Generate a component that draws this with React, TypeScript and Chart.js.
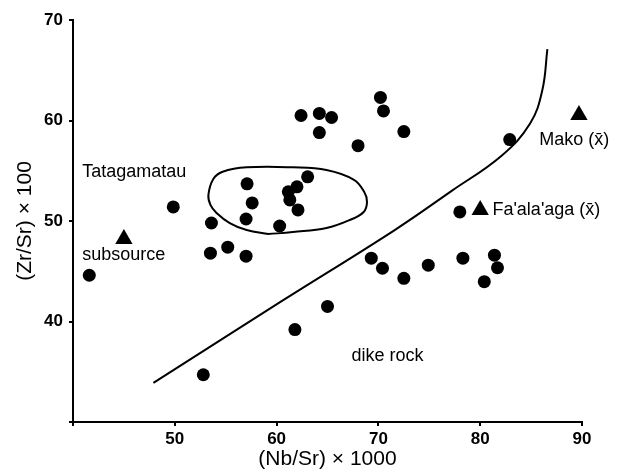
import React, { useEffect, useRef } from "react";
import { Chart, registerables } from "chart.js";

Chart.register(...registerables);

// Dike rock / Tatagamatau samples (Nb/Sr ×1000, Zr/Sr ×100)
const sampleNb = [41.6, 49.85, 52.8, 53.5, 53.6, 55.2, 57.0, 57.0, 57.1, 57.6, 60.3, 61.15, 61.3, 62.0, 62.1, 63.05, 62.4, 64.2, 65.4, 64.2, 68.0, 70.2, 70.5, 72.5, 61.8, 65.0, 69.3, 70.4, 72.5, 74.9, 78.3, 81.4, 81.7, 80.4, 78.0, 82.9];
const sampleZr = [44.6, 51.4, 34.7, 46.8, 49.8, 47.4, 46.5, 50.2, 53.7, 51.8, 49.5, 52.9, 52.1, 53.4, 51.1, 54.4, 60.5, 60.7, 60.3, 58.8, 57.5, 62.3, 60.95, 58.9, 39.2, 41.5, 46.3, 45.3, 44.3, 45.6, 46.3, 46.6, 45.35, 43.96, 50.9, 58.1];

// Source means (triangles): subsource, Fa'ala'aga, Mako
const sourceNb = [45.0, 80.0, 89.7];
const sourceZr = [48.2, 51.1, 60.55];

// Dividing curve
const curveNb = [47.9, 60.3, 71.6, 77.2, 82.1, 84.9, 86.1, 86.6];
const curveZr = [33.9, 41.9, 49.1, 53.0, 56.5, 59.7, 63.0, 67.1];

// Tatagamatau field outline
const fieldNb = [59.2, 61.6, 64.9, 67.2, 68.55, 68.88, 68.6, 67.6, 64.9, 61.6, 57.06, 54.7, 53.8, 53.3, 53.5, 54.1, 55.4, 57.06, 59.2];
const fieldZr = [48.7, 48.9, 49.3, 50.1, 50.9, 51.9, 52.9, 54.1, 55.07, 55.34, 55.34, 54.9, 54.2, 52.6, 51.6, 50.8, 49.8, 49.1, 48.7];

const xTicks = [50, 60, 70, 80, 90];
const yTicks = [40, 50, 60, 70];

const labelTexts = ["Tatagamatau", "subsource", "Mako (x\u0304)", "Fa'ala'aga (x\u0304)", "dike rock"];
const labelNb = [40.9, 40.9, 85.8, 81.2, 70.9];
const labelZr = [54.9, 46.6, 58.06, 51.1, 36.6];
const labelAlign = ["left", "left", "left", "left", "center"];

const FONT = "'Liberation Sans', Arial, Helvetica, sans-serif";

const zip = (xs: number[], ys: number[]) => xs.map((x, i) => ({ x, y: ys[i] }));

const textPlugin = {
  id: "textLabels",
  afterDatasetsDraw(chart: any) {
    const { ctx, scales } = chart;
    ctx.save();
    ctx.fillStyle = "#000";
    ctx.font = `18px ${FONT}`;
    ctx.textBaseline = "middle";
    labelTexts.forEach((t, i) => {
      ctx.textAlign = labelAlign[i];
      ctx.fillText(t, scales.x.getPixelForValue(labelNb[i]), scales.y.getPixelForValue(labelZr[i]));
    });
    ctx.restore();
  },
};

export default function App() {
  const ref = useRef<HTMLCanvasElement>(null);
  useEffect(() => {
    document.body.style.margin = "0";
    const chart = new Chart(ref.current!, {
      type: "scatter",
      data: {
        datasets: [
          {
            data: zip(curveNb, curveZr),
            showLine: true,
            borderColor: "#000",
            borderWidth: 2,
            pointRadius: 0,
            tension: 0.4,
          },
          {
            data: zip(fieldNb, fieldZr),
            showLine: true,
            borderColor: "#000",
            borderWidth: 2,
            pointRadius: 0,
            tension: 0.4,
          },
          {
            data: zip(sampleNb, sampleZr),
            pointStyle: "circle",
            pointRadius: 6.5,
            backgroundColor: "#000",
            borderColor: "#000",
            borderWidth: 0,
            clip: false,
          },
          {
            data: zip(sourceNb, sourceZr),
            pointStyle: "triangle",
            pointRadius: 10,
            backgroundColor: "#000",
            borderColor: "#000",
            borderWidth: 0,
            clip: false,
          },
        ],
      },
      options: {
        responsive: false,
        animation: false,
        layout: { padding: { top: 20, right: 38, left: 0, bottom: 0 } },
        plugins: { legend: { display: false }, tooltip: { enabled: false } },
        scales: {
          x: {
            type: "linear",
            min: 40,
            max: 90,
            afterFit: (s: any) => { s.height = 50; },
            afterBuildTicks: (s: any) => { s.ticks = [40, ...xTicks].map((v) => ({ value: v })); },
            border: { display: true, color: "#000", width: 2 },
            grid: { drawOnChartArea: false, drawTicks: true, tickLength: 4, color: "#000", lineWidth: 2 },
            ticks: {
              color: "#000",
              padding: 3,
              font: { family: FONT, size: 17, weight: "bold" },
              callback: (v: any) => (xTicks.includes(v) ? String(v) : ""),
            },
            title: {
              display: true,
              text: "(Nb/Sr) \u00d7 1000",
              color: "#000",
              font: { family: FONT, size: 21 },
              padding: { top: 0, bottom: 0 },
            },
          },
          y: {
            type: "linear",
            min: 30,
            max: 70,
            afterFit: (s: any) => { s.width = 73; },
            afterBuildTicks: (s: any) => { s.ticks = [30, ...yTicks].map((v) => ({ value: v })); },
            border: { display: true, color: "#000", width: 2 },
            grid: { drawOnChartArea: false, drawTicks: true, tickLength: 4, color: "#000", lineWidth: 2 },
            ticks: {
              color: "#000",
              padding: 6,
              font: { family: FONT, size: 17, weight: "bold" },
              callback: (v: any) => (yTicks.includes(v) ? String(v) : ""),
            },
            title: {
              display: true,
              text: "(Zr/Sr) \u00d7 100",
              color: "#000",
              font: { family: FONT, size: 21 },
              padding: { top: 13, bottom: 0 },
            },
          },
        },
      },
      plugins: [textPlugin],
    } as any);
    return () => chart.destroy();
  }, []);
  return <canvas ref={ref} width={620} height={472} />;
}
